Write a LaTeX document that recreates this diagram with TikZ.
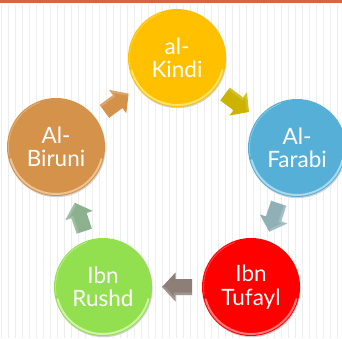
\documentclass[tikz,border=0pt]{standalone}
\usepackage{fontspec}
\setmainfont{Lato}
\definecolor{barcol}{HTML}{D9634A}
\definecolor{stripe}{HTML}{EEEEEE}
\definecolor{kindi}{HTML}{FFC000}
\definecolor{kindirim}{HTML}{FFE36A}
\definecolor{farabi}{HTML}{56AFD7}
\definecolor{farabirim}{HTML}{A6DAF0}
\definecolor{tufayl}{HTML}{FF0000}
\definecolor{tufaylrim}{HTML}{FF7A7A}
\definecolor{rushd}{HTML}{92E050}
\definecolor{rushdrim}{HTML}{CDF5A3}
\definecolor{biruni}{HTML}{D4924B}
\definecolor{birunirim}{HTML}{EDC393}
\definecolor{arrA}{HTML}{D4914A}
\definecolor{arrB}{HTML}{CBB300}
\definecolor{arrC}{HTML}{8FB1B6}
\definecolor{arrD}{HTML}{8D7F77}
\definecolor{arrE}{HTML}{8CB18E}
\begin{document}
\begin{tikzpicture}[x=1pt,y=1pt,
  circ/.style={circle, minimum size=98pt, inner sep=0pt, text=white,
    font=\fontsize{22.5}{23.5}\selectfont, align=center},
  pics/blockarrow/.style={code={
    \fill[#1] (-15,-8) -- (1.5,-8) -- (1.5,-14.5) -- (15,0) -- (1.5,14.5) -- (1.5,8) -- (-15,8) -- cycle;
    \fill[white, opacity=0.18] (-15,8) -- (1.5,8) -- (1.5,14.5) -- (15,0) -- (12,0) -- (3,9.5) -- (3,5.5) -- (-15,5.5) -- cycle;
  }},
  arrpos/.style={sloped, allow upside down, midway}
]
\useasboundingbox (0,0) rectangle (342,338);
\fill[white] (0,0) rectangle (342,338);
\foreach \x in {1,8,...,337} \draw[stripe, line width=1pt] (\x,0) -- (\x,333);
\fill[barcol] (0,335) rectangle (342,338);
% shadows
\foreach \p in {(177,280),(297,190),(56,191),(251,51),(103,51)}
  \fill[black!18] \p ++(0.6,-1.2) circle (49pt);
% circles
\node[circ, fill=kindi] (kindi) at (177,280) {al-\\Kindi};
\node[circ, fill=farabi] (farabi) at (297,190) {Al-\\Farabi};
\node[circ, fill=tufayl] (tufayl) at (251,51) {Ibn\\Tufayl};
\node[circ, fill=rushd] (rushd) at (103,51) {Ibn\\Rushd};
\node[circ, fill=biruni] (biruni) at (56,191) {Al-\\Biruni};
% bevel rims
\foreach \n/\c in {kindi/kindirim,farabi/farabirim,tufayl/tufaylrim,rushd/rushdrim,biruni/birunirim}{
  \draw[\c, line width=2pt, line cap=round] (\n.center) ++(195:47pt) arc[start angle=195, end angle=345, radius=47pt];
  \draw[\c, line width=0.8pt, opacity=0.6] (\n.center) ++(110:47.5pt) arc[start angle=110, end angle=190, radius=47.5pt];
}
% arrows
\path (biruni.center) -- pic[arrpos]{blockarrow=arrA} (kindi.center);
\path (kindi.center) -- pic[arrpos]{blockarrow=arrB} (farabi.center);
\path (farabi.center) -- pic[arrpos]{blockarrow=arrC} (tufayl.center);
\path (tufayl.center) -- pic[arrpos]{blockarrow=arrD} (rushd.center);
\path (rushd.center) -- pic[arrpos]{blockarrow=arrE} (biruni.center);
\end{tikzpicture}
\end{document}
